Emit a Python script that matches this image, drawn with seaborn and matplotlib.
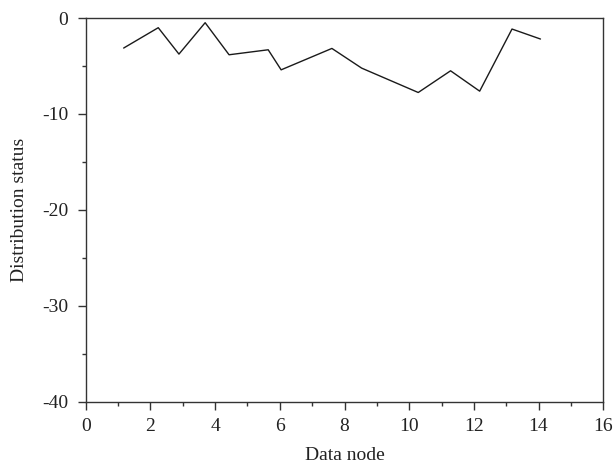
import matplotlib
matplotlib.use("Agg")
import matplotlib.pyplot as plt
import seaborn as sns
import pandas as pd
from matplotlib.ticker import MultipleLocator

# Data
data_node = [1.17, 2.24, 2.88, 3.69, 4.43, 5.64, 6.04, 7.61, 8.53, 10.28, 11.28, 12.18, 13.18, 14.06]
distribution_status = [-3.13, -1.01, -3.76, -0.49, -3.83, -3.31, -5.40, -3.17, -5.22, -7.76, -5.50, -7.62, -1.15, -2.19]

x_ticks = [0, 2, 4, 6, 8, 10, 12, 14, 16]
y_ticks = [-40, -30, -20, -10, 0]

df = pd.DataFrame({"Data node": data_node, "Distribution status": distribution_status})

sns.set_style("ticks")
plt.rcParams["font.family"] = ["Liberation Serif", "DejaVu Serif"]

fig = plt.figure(figsize=(6.13, 4.70), dpi=100)
ax = fig.add_axes([0.140, 0.1447, 0.844, 0.817])

sns.lineplot(data=df, x="Data node", y="Distribution status", ax=ax,
             color="#1a1a1a", linewidth=1.0, sort=False)

ax.set_xlim(0, 16)
ax.set_ylim(-40, 0)
ax.set_xticks(x_ticks)
ax.set_yticks(y_ticks)
ax.set_xticklabels([str(v) for v in x_ticks])
ax.set_yticklabels([str(v) for v in y_ticks])
ax.xaxis.set_minor_locator(MultipleLocator(1))
ax.yaxis.set_minor_locator(MultipleLocator(5))

for s in ax.spines.values():
    s.set_visible(True)
    s.set_linewidth(1.0)
    s.set_color("#333333")

ax.tick_params(which="major", direction="out", length=5.5, width=1.0, color="#333333",
               labelsize=14, labelcolor="#222222")
ax.tick_params(axis="y", which="major", pad=7)
ax.tick_params(axis="x", which="major", pad=6)
ax.tick_params(which="minor", direction="out", length=3, width=1.0, color="#333333")

ax.set_xlabel("Data node", fontsize=14, color="#222222", labelpad=9)
ax.set_ylabel("Distribution status", fontsize=14, color="#222222", labelpad=10)

fig.savefig("out.png", dpi=100)
